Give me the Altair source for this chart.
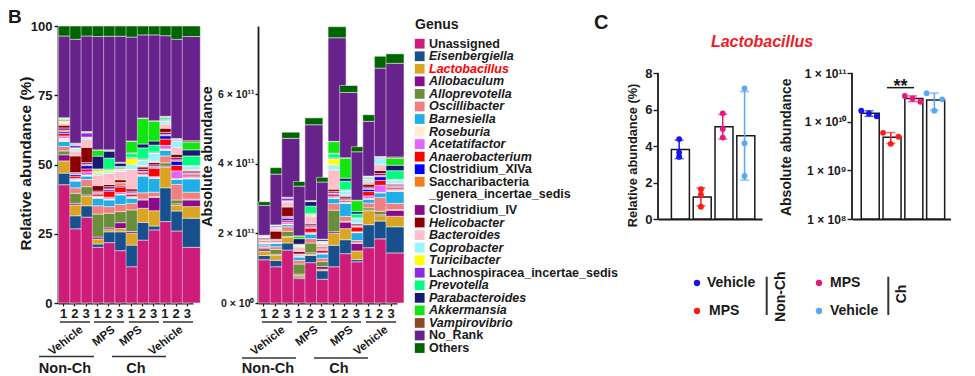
import altair as alt
import pandas as pd

FONT = "Liberation Sans"
INK = "#1a1a1a"

# ---------------- data: panel B ----------------
genera = ["Unassigned", "Eisenbergiella", "Lactobacillus", "Allobaculum", "Alloprevotella",
          "Oscillibacter", "Barnesiella", "Roseburia", "Acetatifactor", "Anaerobacterium",
          "Clostridium_XIVa", "Saccharibacteria_genera_incertae_sedis", "Clostridium_IV",
          "Helicobacter", "Bacteroides", "Coprobacter", "Turicibacter",
          "Lachnospiracea_incertae_sedis", "Prevotella", "Parabacteroides", "Akkermansia",
          "Vampirovibrio", "No_Rank", "Others"]
genus_colors = ["#CD1C7A", "#17508C", "#DAA520", "#8B0A8B", "#6B8E3A",
                "#F08080", "#1EAFEA", "#FFEBCD", "#E066FF", "#FF0000",
                "#0000FF", "#F47B20", "#880C88",
                "#8B0000", "#FFC0CB", "#98F5FF", "#FFFF00",
                "#8A2BE2", "#00FF7F", "#191970", "#11E611",
                "#8B4726", "#68228B", "#006400"]
roman_genera = ["Unassigned", "Clostridium_XIVa", "Saccharibacteria_genera_incertae_sedis",
                "Clostridium_IV", "Lachnospiracea_incertae_sedis", "No_Rank", "Others"]
highlight_genus = "Lactobacillus"

conditions = ["Non-Ch"] * 6 + ["Ch"] * 6
treatments = ["Vehicle"] * 3 + ["MPS"] * 3 + ["MPS"] * 3 + ["Vehicle"] * 3
replicates = [1, 2, 3] * 4

# relative abundance (%) per sample, in the order of `genera`
rel_nc_veh1 = [42.7, 4.2, 4.4, 2.2, 1.4, 1.6, 1.8, 1.2, 0.8, 0.9, 0.6, 0.6, 0.8, 1.0, 0.6, 0.4, 0.6, 0.4, 0.2, 0.2, 0.2, 0.1, 29.5, 3.6]
rel_nc_veh2 = [26.8, 4.7, 3.9, 0.6, 3.6, 2.0, 2.4, 0.6, 0.4, 0.8, 0.6, 0.3, 0.4, 6.0, 1.8, 0.8, 0.3, 0.9, 0.3, 0.2, 0.2, 0.1, 37.5, 4.8]
rel_nc_veh3 = [31.0, 4.1, 3.5, 0.4, 3.0, 2.6, 1.2, 0.4, 1.2, 1.0, 1.2, 0.5, 0.6, 5.5, 3.0, 0.5, 0.2, 1.5, 0.2, 0.1, 0.1, 0.1, 34.5, 3.6]
rel_nc_mps1 = [20.1, 1.2, 1.8, 0.7, 8.3, 3.0, 2.7, 0.5, 0.3, 0.7, 0.3, 0.3, 0.5, 2.0, 3.8, 0.8, 0.8, 0.3, 0.3, 4.6, 2.2, 0.1, 40.9, 3.8]
rel_nc_mps2 = [21.8, 3.9, 0.8, 0.6, 5.3, 2.4, 2.4, 0.4, 0.6, 2.2, 0.5, 0.3, 0.8, 0.8, 4.0, 0.6, 0.6, 0.3, 4.0, 2.5, 0.3, 0.2, 41.0, 3.7]
rel_nc_mps3 = [18.9, 6.8, 1.2, 2.1, 4.0, 2.6, 3.4, 0.3, 0.6, 2.0, 0.4, 0.8, 0.4, 1.0, 3.0, 0.6, 0.4, 0.5, 0.3, 1.2, 0.2, 0.1, 45.5, 3.7]
rel_ch_mps1 = [13.1, 7.8, 4.3, 0.6, 7.8, 2.4, 1.8, 0.3, 0.4, 0.7, 0.4, 0.2, 0.6, 0.8, 7.0, 1.8, 2.2, 0.3, 1.5, 0.2, 4.2, 0.1, 37.5, 4.0]
rel_ch_mps2 = [22.7, 6.4, 5.1, 3.0, 0.3, 2.3, 6.0, 0.3, 0.3, 0.6, 0.3, 0.2, 0.8, 0.8, 0.6, 1.8, 0.2, 0.3, 4.0, 1.4, 9.2, 0.2, 30.0, 3.2]
rel_ch_mps3 = [26.4, 1.4, 5.5, 4.8, 0.3, 1.6, 5.0, 0.3, 0.3, 3.0, 0.4, 0.3, 0.6, 0.8, 0.5, 2.8, 0.2, 0.3, 2.5, 1.5, 7.0, 0.3, 31.0, 3.2]
rel_ch_veh1 = [29.4, 12.2, 7.4, 0.4, 1.2, 2.5, 2.0, 0.5, 1.3, 2.3, 1.2, 0.4, 0.8, 1.5, 1.5, 1.0, 0.3, 0.4, 0.6, 0.1, 0.3, 0.1, 29.1, 3.5]
rel_ch_veh2 = [26.0, 7.2, 2.2, 0.4, 1.4, 5.6, 1.8, 0.3, 2.8, 2.0, 1.5, 0.5, 0.8, 1.2, 2.5, 2.3, 0.1, 0.3, 0.2, 0.1, 0.1, 0.1, 35.8, 4.8]
rel_ch_veh3 = [20.1, 10.5, 4.2, 2.4, 0.3, 2.5, 4.8, 0.4, 0.4, 0.6, 0.3, 0.3, 0.5, 0.4, 0.4, 1.2, 0.1, 0.2, 3.5, 2.2, 2.8, 0.5, 37.6, 3.8]
rel_samples = [rel_nc_veh1, rel_nc_veh2, rel_nc_veh3, rel_nc_mps1, rel_nc_mps2, rel_nc_mps3,
               rel_ch_mps1, rel_ch_mps2, rel_ch_mps3, rel_ch_veh1, rel_ch_veh2, rel_ch_veh3]

# total bacterial load per sample (absolute abundance)
abs_totals = [2.91e11, 3.89e11, 4.91e11, 3.49e11, 5.32e11, 3.61e11,
              7.94e11, 6.25e11, 4.49e11, 5.41e11, 7.09e11, 7.16e11]

# ---------------- data: panel C (Lactobacillus) ----------------
c_groups = ["Non-Ch Vehicle", "Non-Ch MPS", "Ch MPS", "Ch Vehicle"]
c_colors = ["#1414F0", "#FF1A1A", "#E8197B", "#5AA7F2"]
lacto_rel_nc_veh = [3.65, 4.38, 3.41]
lacto_rel_nc_mps = [1.63, 0.67, 1.33]
lacto_rel_ch_mps = [5.79, 4.93, 4.46]
lacto_rel_ch_veh = [7.16, 4.15, 2.36]
lacto_abs_nc_veh = [1.68e10, 1.48e10, 1.29e10]
lacto_abs_nc_mps = [5.9e9, 3.5e9, 4.9e9]
lacto_abs_ch_mps = [3.37e10, 3.0e10, 2.57e10]
lacto_abs_ch_veh = [3.83e10, 1.68e10, 2.88e10]

# ---------------- tables ----------------
rows = []
for i, vals in enumerate(rel_samples):
    key = f"{i:02d}|{replicates[i]}"
    for j, g in enumerate(genera):
        rows.append({"sample": key, "genus": g, "gidx": j, "rel": vals[j],
                     "abs": vals[j] / 100.0 * abs_totals[i]})
stack_df = pd.DataFrame(rows)
sample_order = sorted(stack_df["sample"].unique())

c_rows = []
for g, rv, av in zip(c_groups,
                     [lacto_rel_nc_veh, lacto_rel_nc_mps, lacto_rel_ch_mps, lacto_rel_ch_veh],
                     [lacto_abs_nc_veh, lacto_abs_nc_mps, lacto_abs_ch_mps, lacto_abs_ch_veh]):
    for k in range(3):
        c_rows.append({"grp": g, "rep": k + 1, "rel": rv[k], "abs": av[k]})
c_df = pd.DataFrame(c_rows)

one = pd.DataFrame({"k": [0]})


# ---------------- helpers ----------------
def txt(s, x, y, size, color=INK, **kw):
    return alt.Chart(one).mark_text(text=s, font=FONT, fontSize=size, fontWeight="bold",
                                    color=color, **kw).encode(x=alt.value(x), y=alt.value(y))


def hline(x1, x2, y, w=1.5):
    return alt.Chart(one).mark_rule(color="#333333", strokeWidth=w).encode(
        x=alt.value(x1), x2=alt.value(x2), y=alt.value(y))


def vline(x, y1, y2, w=1.8):
    return alt.Chart(one).mark_rule(color="#333333", strokeWidth=w).encode(
        x=alt.value(x), y=alt.value(y1), y2=alt.value(y2))


def spacer(w):
    return alt.Chart(one).mark_point(opacity=0).encode(
        x=alt.value(0), y=alt.value(0)).properties(width=w, height=10)


axis_style = dict(domainColor=INK, domainWidth=1.8, tickColor=INK, tickWidth=1.4,
                  labelFont=FONT, labelFontWeight="bold", labelColor=INK, grid=False,
                  titleFont=FONT, titleFontWeight="bold", titleColor=INK,
                  titleAngle=270, titleAlign="center", titleBaseline="middle")

genus_color = alt.Color("genus:N", scale=alt.Scale(domain=genera, range=genus_colors), legend=None)
stack_order = alt.Order("gidx:Q", sort="ascending")


def sample_x():
    return alt.X("sample:O", sort=sample_order,
                 scale=alt.Scale(paddingInner=0.1, paddingOuter=0.05),
                 axis=alt.Axis(title=None, labelExpr="split(datum.label, '|')[1]", labelAngle=0,
                               labelFontSize=13, labelPadding=1, tickSize=3, grid=False,
                               domainColor=INK, domainWidth=1.8, tickColor=INK, tickWidth=1.2,
                               labelFont=FONT, labelFontWeight="bold", labelColor=INK))


def group_annotations(under, label_right, line_y, nonch_line, ch_line, nonch_x, ch_x):
    layers = []
    for a, b in under:
        layers.append(hline(a, b, 296, 1.5))
    for lab, xr in zip(["Vehicle", "MPS", "MPS", "Vehicle"], label_right):
        layers.append(txt(lab, xr, 298, 11.5, angle=322, align="right", baseline="top"))
    layers.append(hline(nonch_line[0], nonch_line[1], line_y, 1.5))
    layers.append(hline(ch_line[0], ch_line[1], line_y, 1.5))
    layers.append(txt("Non-Ch", nonch_x, 346.5, 14.5, baseline="alphabetic"))
    layers.append(txt("Ch", ch_x, 346.5, 14.5, baseline="alphabetic"))
    return layers


# ---------------- panel B: relative ----------------
b1_bars = alt.Chart(stack_df).mark_bar(stroke="white", strokeWidth=0.5).encode(
    x=sample_x(),
    y=alt.Y("rel:Q", stack="zero", scale=alt.Scale(domain=[0, 100], nice=False),
            axis=alt.Axis(values=[0, 25, 50, 75, 100], tickSize=4, labelPadding=2, labelFontSize=13,
                          title="Relative abundance (%)", titleFontSize=15.5,
                          titleX=-33, titleY=137, **axis_style)),
    color=genus_color, order=stack_order)

b1 = alt.layer(
    b1_bars,
    txt("B", -50, -18, 19, align="left", baseline="top"),
    *group_annotations([(2, 32), (36, 66), (71, 101), (105, 135)], [20, 52, 79, 120],
                       330.5, (-19, 36), (54, 108), 7, 78),
).properties(width=135, height=277)

# ---------------- panel B: absolute ----------------
b2_bars = alt.Chart(stack_df).mark_bar(stroke="white", strokeWidth=0.5).encode(
    x=sample_x(),
    y=alt.Y("abs:Q", stack="zero", scale=alt.Scale(domain=[0, 7.96e11], nice=False),
            axis=alt.Axis(values=[0, 2e11, 4e11, 6e11], tickSize=3, labelPadding=1, labelFontSize=10.5,
                          labelExpr="datum.value == 0 ? '0 × 10⁰' : format(datum.value / 1e11, 'd') + ' × 10¹¹'",
                          title="Absolute abundance", titleFontSize=14.3,
                          titleX=-51, titleY=130, **axis_style)),
    color=genus_color, order=stack_order)

b2 = alt.layer(
    b2_bars,
    *group_annotations([(4, 34), (39, 69), (73, 103), (108, 138)], [22, 55, 90, 125],
                       332, (-16, 38), (56, 110), 10, 81),
).properties(width=139, height=277)

# ---------------- legend panel ----------------
leg_rows = []
for i, g in enumerate(genera):
    pos = i if i <= 11 else i + 1.25
    label = "Saccharibacteria" if g.startswith("Saccharibacteria") else g
    style = "red" if g == highlight_genus else ("roman" if g in roman_genera else "italic")
    leg_rows.append({"genus": g, "label": label, "py": 17.7 + pos * 12.55, "style": style, "box": 1})
leg_rows.append({"genus": "", "label": "_genera_incertae_sedis", "py": 17.7 + 12.0 * 12.55,
                 "style": "roman", "box": 0})
leg_df = pd.DataFrame(leg_rows)
leg_y = alt.Y("py:Q", scale=alt.Scale(domain=[0, 330], reverse=True, nice=False, zero=False), axis=None)

leg_boxes = alt.Chart(leg_df).transform_filter("datum.box == 1").mark_square(size=95, opacity=1).encode(
    x=alt.value(5.7), y=leg_y, color=genus_color)


def leg_text(style, italic, color):
    return alt.Chart(leg_df).transform_filter(f"datum.style == '{style}'").mark_text(
        font=FONT, fontSize=12.5, fontWeight="bold", fontStyle="italic" if italic else "normal",
        color=color, align="left", baseline="middle").encode(x=alt.value(15), y=leg_y, text="label:N")


legend_panel = alt.layer(
    leg_boxes,
    leg_text("roman", False, INK),
    leg_text("italic", True, INK),
    leg_text("red", True, "#FF0000"),
    txt("Genus", 1, -1, 14, align="left", baseline="middle"),
).properties(width=200, height=330)

# ---------------- panel C ----------------
c_color = alt.Color("grp:N", scale=alt.Scale(domain=c_groups, range=c_colors), legend=None)


def c_x(pad_outer, align):
    return alt.X("grp:N", sort=c_groups,
                 scale=alt.Scale(domain=c_groups, paddingInner=0.29, paddingOuter=pad_outer, align=align),
                 axis=alt.Axis(title=None, labels=False, ticks=False, grid=False,
                               domainColor=INK, domainWidth=1.8))


c1_axis = alt.Axis(values=[0, 2, 4, 6, 8], domain=False, tickSize=5, labelPadding=1, labelFontSize=13,
                   title="Relative abundance (%)", titleFontSize=12.8, titleX=-26, titleY=129, **axis_style)
c1_scale = alt.Scale(domain=[0, 8 * 193 / 146], nice=False)


def c1_y(field):
    return alt.Y(field, scale=c1_scale, axis=c1_axis)


c1x = c_x(0.53, 0.58)
c1 = alt.layer(
    alt.Chart(c_df).mark_bar(fill="white", stroke=INK, strokeWidth=1.5).encode(x=c1x, y=c1_y("mean(rel):Q")),
    alt.Chart(c_df).mark_errorbar(extent="stdev", thickness=1.5, ticks={"size": 9, "thickness": 1.5}).encode(
        x=c1x, y=c1_y("rel:Q"), color=c_color),
    alt.Chart(c_df).mark_circle(size=34, opacity=1).encode(x=c1x, y=c1_y("rel:Q"), color=c_color),
    alt.Chart(one).mark_rule(color=INK, strokeWidth=1.8).encode(x=alt.value(0), y=alt.datum(0), y2=alt.datum(8)),
    txt("C", -64, -13.5, 20, align="left", baseline="top"),
    txt("Lactobacillus", 104, 21, 16, color="#EE1C25", fontStyle="italic", baseline="alphabetic"),
    # group legend
    alt.Chart(one).mark_circle(size=40, opacity=1, color=c_colors[0]).encode(x=alt.value(39), y=alt.value(257)),
    alt.Chart(one).mark_circle(size=40, opacity=1, color=c_colors[1]).encode(x=alt.value(39), y=alt.value(285)),
    alt.Chart(one).mark_circle(size=40, opacity=1, color=c_colors[2]).encode(x=alt.value(161), y=alt.value(257)),
    alt.Chart(one).mark_circle(size=40, opacity=1, color=c_colors[3]).encode(x=alt.value(161), y=alt.value(285)),
    txt("Vehicle", 49, 257, 14, align="left"),
    txt("MPS", 51, 285, 14, align="left"),
    txt("MPS", 172, 257, 14, align="left"),
    txt("Vehicle", 172, 285, 14, align="left"),
    vline(108.7, 250.7, 289, 2),
    vline(230.3, 250.7, 289, 2),
    txt("Non-Ch", 123, 270.7, 14, angle=270),
    txt("Ch", 244, 268, 14, angle=270),
).properties(width=104, height=193)

c2_axis = alt.Axis(values=[1e8, 1e9, 1e10, 1e11], domain=False, tickSize=5, labelPadding=1, labelFontSize=12,
                   labelExpr="datum.value == 1e8 ? '1 × 10⁸' : datum.value == 1e9 ? '1 × 10⁹' : "
                             "datum.value == 1e10 ? '1 × 10¹⁰' : '1 × 10¹¹'",
                   title="Absolute abundance", titleFontSize=14, titleX=-66, titleY=120.7, **axis_style)
c2_scale = alt.Scale(type="log", domain=[1e8, 10 ** (8 + 3 * 193 / 146)], nice=False)


def c2_y(field):
    return alt.Y(field, scale=c2_scale, axis=c2_axis)


c2x = c_x(0.415, 0.51)
c2 = alt.layer(
    alt.Chart(c_df).mark_bar(fill="white", stroke=INK, strokeWidth=1.5).encode(
        x=c2x, y=c2_y("mean(abs):Q"), y2=alt.datum(1e8)),
    alt.Chart(c_df).mark_errorbar(extent="stdev", thickness=1.5, ticks={"size": 9, "thickness": 1.5}).encode(
        x=c2x, y=c2_y("abs:Q"), color=c_color),
    alt.Chart(c_df).mark_circle(size=34, opacity=1).encode(
        x=c2x, y=c2_y("abs:Q"), color=c_color,
        xOffset=alt.XOffset("rep:O", scale=alt.Scale(paddingInner=0, paddingOuter=0))),
    alt.Chart(one).mark_rule(color=INK, strokeWidth=1.8).encode(x=alt.value(0), y=alt.datum(1e8), y2=alt.datum(1e11)),
    alt.Chart(one).mark_rule(color=INK, strokeWidth=1.5).encode(x=alt.value(35), x2=alt.value(62), y=alt.datum(5e10)),
    alt.Chart(one).mark_text(text="**", font=FONT, fontSize=18, fontWeight="bold", color=INK,
                             baseline="alphabetic", dy=4.3).encode(x=alt.value(48.5), y=alt.datum(5e10)),
).properties(width=99, height=193)

chart = alt.hconcat(
    b1, spacer(65), b2, spacer(17), legend_panel, spacer(44), c1, spacer(90), c2,
    spacing=0, bounds="flush",
).resolve_scale(
    x="independent", y="independent", color="independent"
).properties(
    padding=0
).configure(
    font=FONT
).configure_view(
    stroke="transparent", strokeWidth=0
)

chart.save("out.html", embed_options={"renderer": "svg", "actions": False})
